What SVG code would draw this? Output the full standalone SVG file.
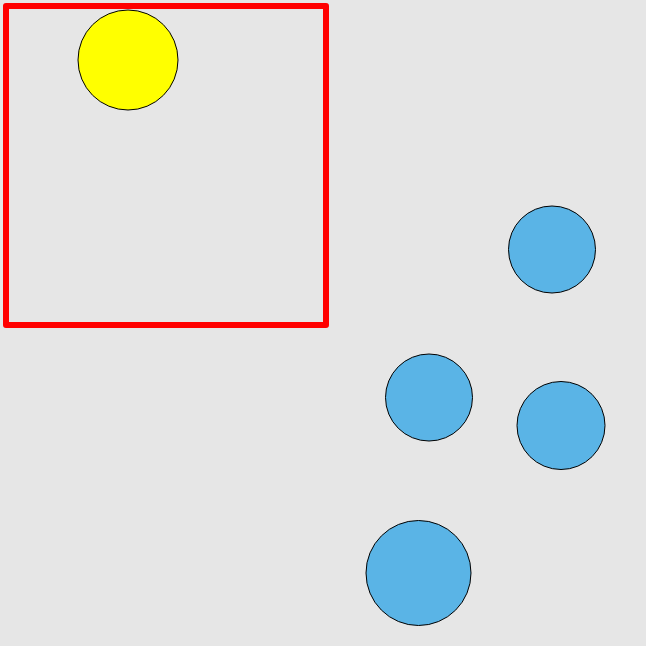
<svg xmlns="http://www.w3.org/2000/svg" width="646" height="646" viewBox="0 0 646 646">
<style>
.ball{fill:#5ab4e6;stroke:#000;stroke-width:1}
</style>
<rect x="0" y="0" width="646" height="646" fill="#e6e6e6"/>
<g id="frame"><rect x="6" y="6" width="320" height="319" fill="none" stroke="#ff0000" stroke-width="6" stroke-linejoin="round"/></g>
<g id="sun"><circle cx="128" cy="60" r="50" fill="#ffff00" stroke="#000" stroke-width="1"/></g>
<g id="b1"><circle class="ball" cx="552" cy="249.5" r="43.5"/></g>
<g id="b2"><circle class="ball" cx="429" cy="397.5" r="43.5"/></g>
<g id="b3"><circle class="ball" cx="561" cy="425.5" r="44"/></g>
<g id="b4"><circle class="ball" cx="418.5" cy="573" r="52.5"/></g>
</svg>
